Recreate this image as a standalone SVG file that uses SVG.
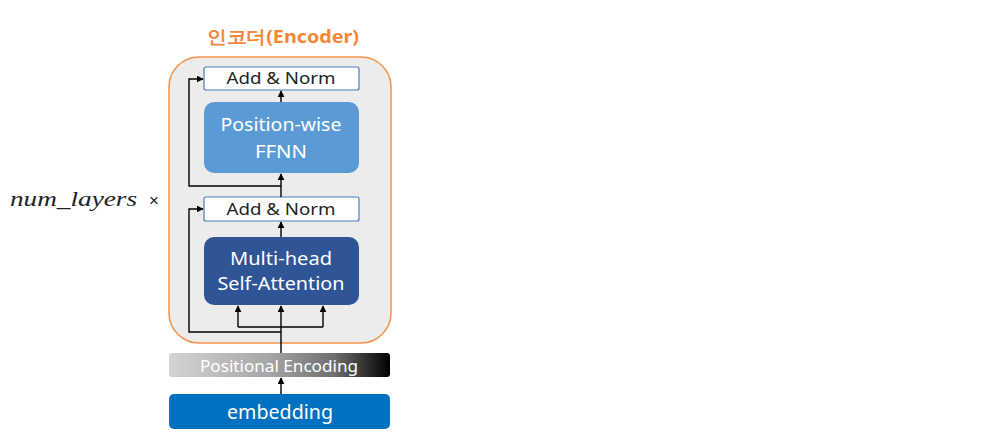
<svg xmlns="http://www.w3.org/2000/svg" width="1001" height="445" viewBox="0 0 1001 445">
<defs>
<marker id="ah" viewBox="0 0 10 10" refX="9" refY="5" markerWidth="7" markerHeight="7" markerUnits="userSpaceOnUse" orient="auto"><path d="M0,0 L10,5 L0,10 z" fill="#000"/></marker>
<linearGradient id="pe" x1="0" y1="0" x2="1" y2="0">
<stop offset="0" stop-color="#d4d4d4"/>
<stop offset="0.45" stop-color="#a6a6a6"/>
<stop offset="0.75" stop-color="#6e6e6e"/>
<stop offset="1" stop-color="#000"/>
</linearGradient>
</defs>
<style>
.t{font-family:"Noto Sans","Open Sans",sans-serif;text-anchor:middle}
.an{fill:#fff;stroke:#4a7ebb;stroke-width:1.2}
.c{fill:none;stroke:#000;stroke-width:1.4}
</style>
<rect width="1001" height="445" fill="#fff"/>
<g id="encoder">
<rect x="169" y="57" width="222" height="286" rx="30" fill="#ececec" stroke="#f4924a" stroke-width="1.5"/>
<text class="t" x="283" y="43" font-size="18" font-weight="bold" fill="#f4873a" font-family="'Noto Sans CJK KR','Noto Sans',sans-serif" textLength="152" lengthAdjust="spacingAndGlyphs">인코더(Encoder)</text>
</g>
<g id="num_layers">
<text x="10" y="206" font-family="'Liberation Serif',serif" font-style="italic" font-size="20" fill="#222" textLength="127" lengthAdjust="spacingAndGlyphs">num_layers</text>
<text x="149" y="206" font-family="'Liberation Sans',sans-serif" font-size="17" fill="#222">×</text>
</g>
<g id="addnorm2">
<rect class="an" x="204" y="67" width="155" height="23" rx="2"/>
<text class="t" x="281" y="84" font-size="16.5" fill="#222" textLength="109" lengthAdjust="spacingAndGlyphs">Add &amp; Norm</text>
</g>
<g id="ffnn">
<rect x="204" y="102" width="155" height="71" rx="10" fill="#5b9bd5"/>
<text class="t" x="281" y="131" font-size="18" fill="#fff" textLength="121" lengthAdjust="spacingAndGlyphs">Position-wise</text>
<text class="t" x="281" y="158" font-size="18" fill="#fff" textLength="52" lengthAdjust="spacingAndGlyphs">FFNN</text>
</g>
<g id="addnorm1">
<rect class="an" x="204" y="197" width="155" height="24" rx="2"/>
<text class="t" x="281" y="215" font-size="16.5" fill="#222" textLength="109" lengthAdjust="spacingAndGlyphs">Add &amp; Norm</text>
</g>
<g id="mha">
<rect x="204" y="237" width="155" height="68" rx="10" fill="#2f5597"/>
<text class="t" x="281" y="265" font-size="18" fill="#fff" textLength="102" lengthAdjust="spacingAndGlyphs">Multi-head</text>
<text class="t" x="281" y="290" font-size="18" fill="#fff" textLength="127" lengthAdjust="spacingAndGlyphs">Self-Attention</text>
</g>
<g id="posenc">
<rect x="169" y="353" width="221" height="24" rx="3" fill="url(#pe)"/>
<text class="t" x="279" y="372" font-size="16" fill="#fff" textLength="158" lengthAdjust="spacingAndGlyphs">Positional Encoding</text>
</g>
<g id="embedding">
<rect x="169" y="394" width="221" height="35" rx="5" fill="#0070c0"/>
<text class="t" x="280" y="419" font-size="19.5" fill="#fff" textLength="106" lengthAdjust="spacingAndGlyphs">embedding</text>
</g>
<g id="connectors">
<path class="c" d="M281,394 L281,378" marker-end="url(#ah)"/>
<path class="c" d="M281,353 L281,306" marker-end="url(#ah)"/>
<path class="c" d="M238,327 L323,327"/>
<path class="c" d="M238,327 L238,306" marker-end="url(#ah)"/>
<path class="c" d="M323,327 L323,306" marker-end="url(#ah)"/>
<path class="c" d="M281,332 L189,332 L189,209 L203,209" marker-end="url(#ah)"/>
<path class="c" d="M281,237 L281,222" marker-end="url(#ah)"/>
<path class="c" d="M281,197 L281,174" marker-end="url(#ah)"/>
<path class="c" d="M281,186 L189,186 L189,79 L203,79" marker-end="url(#ah)"/>
<path class="c" d="M281,102 L281,91" marker-end="url(#ah)"/>
</g>
</svg>
